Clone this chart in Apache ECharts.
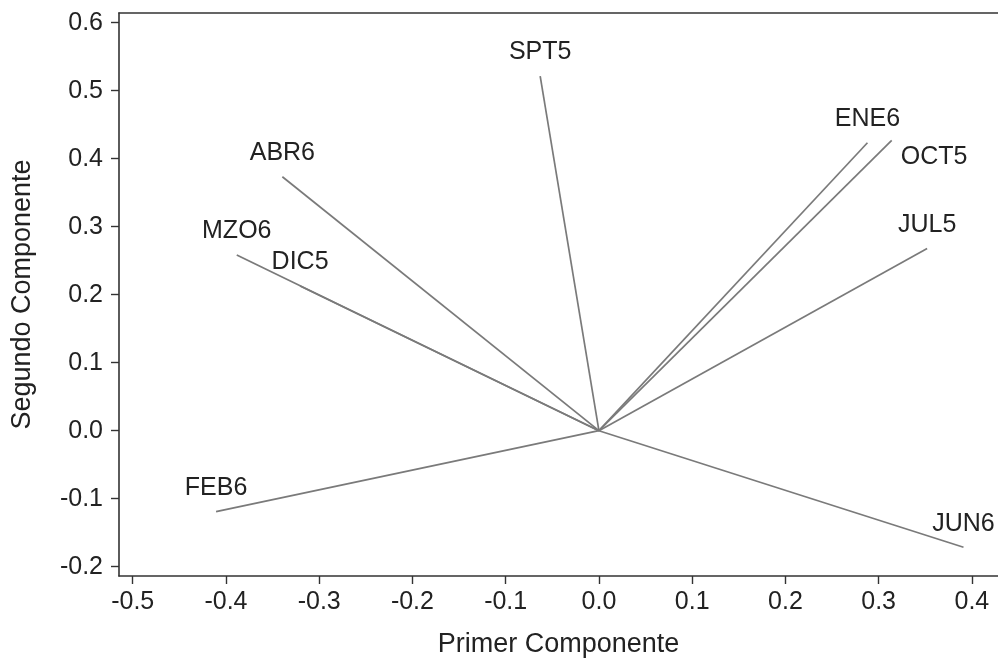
<!DOCTYPE html>
<html>
<head>
<meta charset="utf-8">
<script src="https://cdn.jsdelivr.net/npm/echarts@6/dist/echarts.min.js"></script>
<style>
html,body{margin:0;padding:0;background:#fff;}
#c{width:998px;height:658px;}
</style>
</head>
<body>
<div id="c"></div>
<script>
// Data
var names = ['SPT5','ABR6','MZO6','DIC5','FEB6','ENE6','OCT5','JUL5','JUN6'];
var pc1 = [-0.063, -0.3395, -0.3884, -0.3205, -0.4106, 0.288, 0.314, 0.352, 0.391];
var pc2 = [0.5216, 0.3735, 0.2584, 0.2128, -0.119, 0.4235, 0.427, 0.268, -0.1715];
var xTicks = [-0.5, -0.4, -0.3, -0.2, -0.1, 0.0, 0.1, 0.2, 0.3, 0.4];
var yTicks = [-0.2, -0.1, 0.0, 0.1, 0.2, 0.3, 0.4, 0.5, 0.6];

var FONT = '"Liberation Sans", Arial, sans-serif';
var axisColor = '#333333';
var vecColor = '#7a7a7a';

var series = [];
names.forEach(function (n, i) {
  series.push({
    type: 'line',
    name: n,
    data: [[0, 0], [pc1[i], pc2[i]]],
    symbol: 'none',
    silent: true,
    lineStyle: { color: vecColor, width: 1.7 },
    z: 2
  });
});

var labelOverrides = {
  'OCT5': { position: 'right', distance: 9, offset: [0, 17] }
};

series.push({
  type: 'scatter',
  symbolSize: 0,
  silent: true,
  itemStyle: { opacity: 1 },
  data: names.map(function (n, i) {
    var item = { name: n, value: [pc1[i], pc2[i]] };
    if (labelOverrides[n]) item.label = labelOverrides[n];
    return item;
  }),
  label: {
    show: true,
    position: 'top',
    distance: 11,
    formatter: function (p) { return p.name; },
    fontFamily: FONT,
    fontSize: 25,
    color: '#222'
  },
  z: 3
});

var xMin = -0.5147, xMax = 0.428, yMin = -0.2137, yMax = 0.6143;

var chart = echarts.init(document.getElementById('c'), null, { renderer: 'canvas' });
chart.setOption({
  animation: false,
  backgroundColor: '#ffffff',
  grid: { left: 119, right: 0, top: 13, bottom: 82, containLabel: false, outerBoundsMode: 'none' },
  xAxis: [{
    type: 'value',
    min: xMin, max: xMax,
    name: 'Primer Componente',
    nameLocation: 'middle',
    nameGap: 55,
    nameTextStyle: { fontFamily: FONT, fontSize: 27, color: '#222' },
    axisLine: { show: true, onZero: false, lineStyle: { color: axisColor, width: 1.6 } },
    axisTick: { show: true, inside: false, length: 8, customValues: xTicks, lineStyle: { color: axisColor, width: 1.4 } },
    axisLabel: { customValues: xTicks, margin: 14, fontFamily: FONT, fontSize: 25, color: '#222',
      formatter: function (v) { return v.toFixed(1); } },
    splitLine: { show: false }
  }, {
    type: 'value',
    position: 'top',
    min: xMin, max: xMax,
    axisLine: { show: true, onZero: false, lineStyle: { color: axisColor, width: 1.6 } },
    axisTick: { show: false },
    axisLabel: { show: false },
    splitLine: { show: false }
  }],
  yAxis: {
    type: 'value',
    min: yMin, max: yMax,
    name: 'Segundo Componente',
    nameLocation: 'middle',
    nameGap: 83,
    nameTextStyle: { fontFamily: FONT, fontSize: 27, color: '#222' },
    axisLine: { show: true, onZero: false, lineStyle: { color: axisColor, width: 1.6 } },
    axisTick: { show: true, inside: false, length: 8, customValues: yTicks, lineStyle: { color: axisColor, width: 1.4 } },
    axisLabel: { customValues: yTicks, margin: 16, fontFamily: FONT, fontSize: 25, color: '#222',
      formatter: function (v) { return v.toFixed(1); } },
    splitLine: { show: false }
  },
  series: series
});
</script>
</body>
</html>
